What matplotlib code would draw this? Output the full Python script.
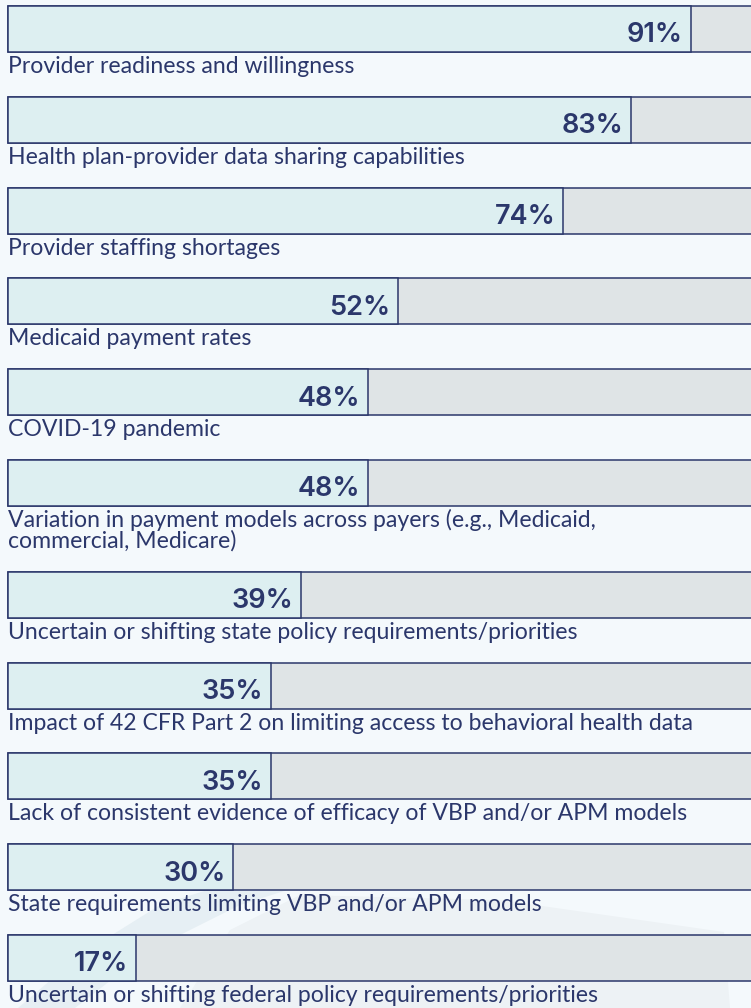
import matplotlib.pyplot as plt
from matplotlib.patches import Polygon

labels = [
    ["Provider readiness and willingness"],
    ["Health plan-provider data sharing capabilities"],
    ["Provider staffing shortages"],
    ["Medicaid payment rates"],
    ["COVID-19 pandemic"],
    ["Variation in payment models across payers (e.g., Medicaid,", "commercial, Medicare)"],
    ["Uncertain or shifting state policy requirements/priorities"],
    ["Impact of 42 CFR Part 2 on limiting access to behavioral health data"],
    ["Lack of consistent evidence of efficacy of VBP and/or APM models"],
    ["State requirements limiting VBP and/or APM models"],
    ["Uncertain or shifting federal policy requirements/priorities"],
]
values = [91, 83, 74, 52, 48, 48, 39, 35, 35, 30, 17]

navy = "#2b376b"
fill = "#ddeff1"
rest = "#dfe4e6"
bg = "#f4f9fc"

fig = plt.figure(figsize=(7.51, 10.08), dpi=100, facecolor=bg)

# faint background watermark, in pixel coordinates
wm = fig.add_axes([0, 0, 1, 1], zorder=0)
wm.set_xlim(0, 751)
wm.set_ylim(1008, 0)
wm.axis("off")
wm.add_patch(Polygon([(18, 1008), (75, 1008), (150, 950), (240, 905), (335, 875),
                      (255, 875), (160, 905), (80, 955)],
                     closed=True, color="#e6eff4", lw=0))
wm.add_patch(Polygon([(300, 895), (500, 900), (724, 932), (730, 1008), (180, 1008),
                      (230, 930)],
                     closed=True, color="#edf2f5", lw=0))

ax = fig.add_axes([0, 0, 1, 1], zorder=1)
ax.patch.set_alpha(0)

# bar tops in pixels: fixed step, plus room for extra label lines
tops = []
y = 6
for lines in labels:
    tops.append(y)
    y += 90.8 + 21 * (len(lines) - 1)
centers = [t + 23 for t in tops]

ax.barh(centers, [100] * len(values), height=46, color=rest, edgecolor=navy, linewidth=1.1, zorder=2)
ax.barh(centers, values, height=46, color=fill, edgecolor=navy, linewidth=1.1, zorder=3)

for t, lines, v in zip(tops, labels, values):
    ax.text(v - 1.0, t + 36.5, f"{v}%", ha="right", va="baseline", fontsize=19.5,
            fontweight="semibold", family="Inter", color=navy, zorder=4)
    for k, line in enumerate(lines):
        ax.text(0, t + 67 + 20.5 * k, line, ha="left", va="baseline", fontsize=16.6,
                family="Lato", color=navy, zorder=4)

ax.set_xlim(-8 / 7.5, 743 / 7.5)
ax.set_ylim(1008, 0)
ax.axis("off")

fig.savefig("out.png", dpi=100, facecolor=bg)
